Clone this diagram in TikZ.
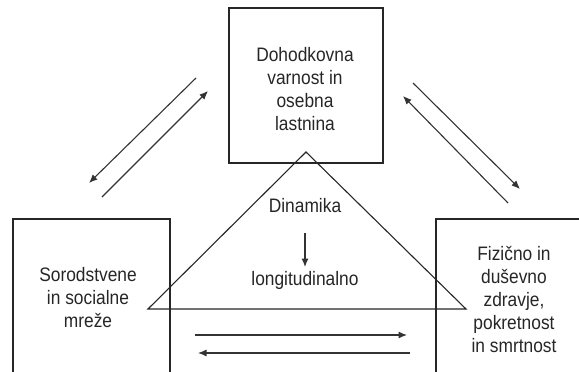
\documentclass[tikz,border=0pt]{standalone}
\usepackage{fontspec}
\newfontfamily\diafont[FakeStretch=0.89]{Liberation Sans}
\usetikzlibrary{arrows.meta}
\begin{document}
\begin{tikzpicture}[x=1pt,y=-1pt,
  box/.style={draw=black!85, line width=1.1pt, inner sep=0pt, minimum width=#1},
  lbl/.style={font=\diafont\fontsize{19.5}{23}\selectfont, text=black!85, align=center, inner sep=0pt},
  arr/.style={draw=black!80, line width=1.1pt, -{Latex[length=8.5pt,width=7pt]}},
  tri/.style={draw=black!85, line width=1.1pt, line join=miter}
  ]
\clip (0,0) rectangle (579,372);
% boxes
\node[box=154pt, minimum height=155pt] (top) at (306,85.5) {};
\node[box=157pt, minimum height=181pt] (left) at (91.5,309.5) {};
\node[box=184pt, minimum height=181pt] (right) at (528,309.5) {};
% triangle
\coordinate (apex) at (306,152);
\coordinate (tl) at (148,309);
\coordinate (tr) at (466,309);
\draw[tri] (tl) -- (apex) -- (tr) -- cycle;
% labels
\node[lbl] (toptext) at (305,89) {Dohodkovna\\varnost in\\osebna\\lastnina};
\node[lbl] (lefttext) at (88,298) {Sorodstvene\\in socialne\\mreže};
\node[lbl] (righttext) at (514,299) {Fizično in\\duševno\\zdravje,\\pokretnost\\in smrtnost};
\node[lbl] (dyn) at (305,206) {Dinamika};
\node[lbl] (lon) at (305,280) {longitudinalno};
% arrow end points
\coordinate (d1) at (305,233);
\coordinate (d2) at (305,267);
\coordinate (a1) at (196,78);
\coordinate (a2) at (89,183);
\coordinate (b1) at (102,197);
\coordinate (b2) at (208,91);
\coordinate (c1) at (413,83);
\coordinate (c2) at (520,189);
\coordinate (e1) at (508,203);
\coordinate (e2) at (403,96);
\coordinate (h1) at (195,335);
\coordinate (h2) at (407,335);
\coordinate (g1) at (410,353);
\coordinate (g2) at (198,353);
% arrows
\draw[arr] (d1) -- (d2);
\draw[arr] (a1) -- (a2);
\draw[arr] (b1) -- (b2);
\draw[arr] (c1) -- (c2);
\draw[arr] (e1) -- (e2);
\draw[arr] (h1) -- (h2);
\draw[arr] (g1) -- (g2);
\end{tikzpicture}
\end{document}
